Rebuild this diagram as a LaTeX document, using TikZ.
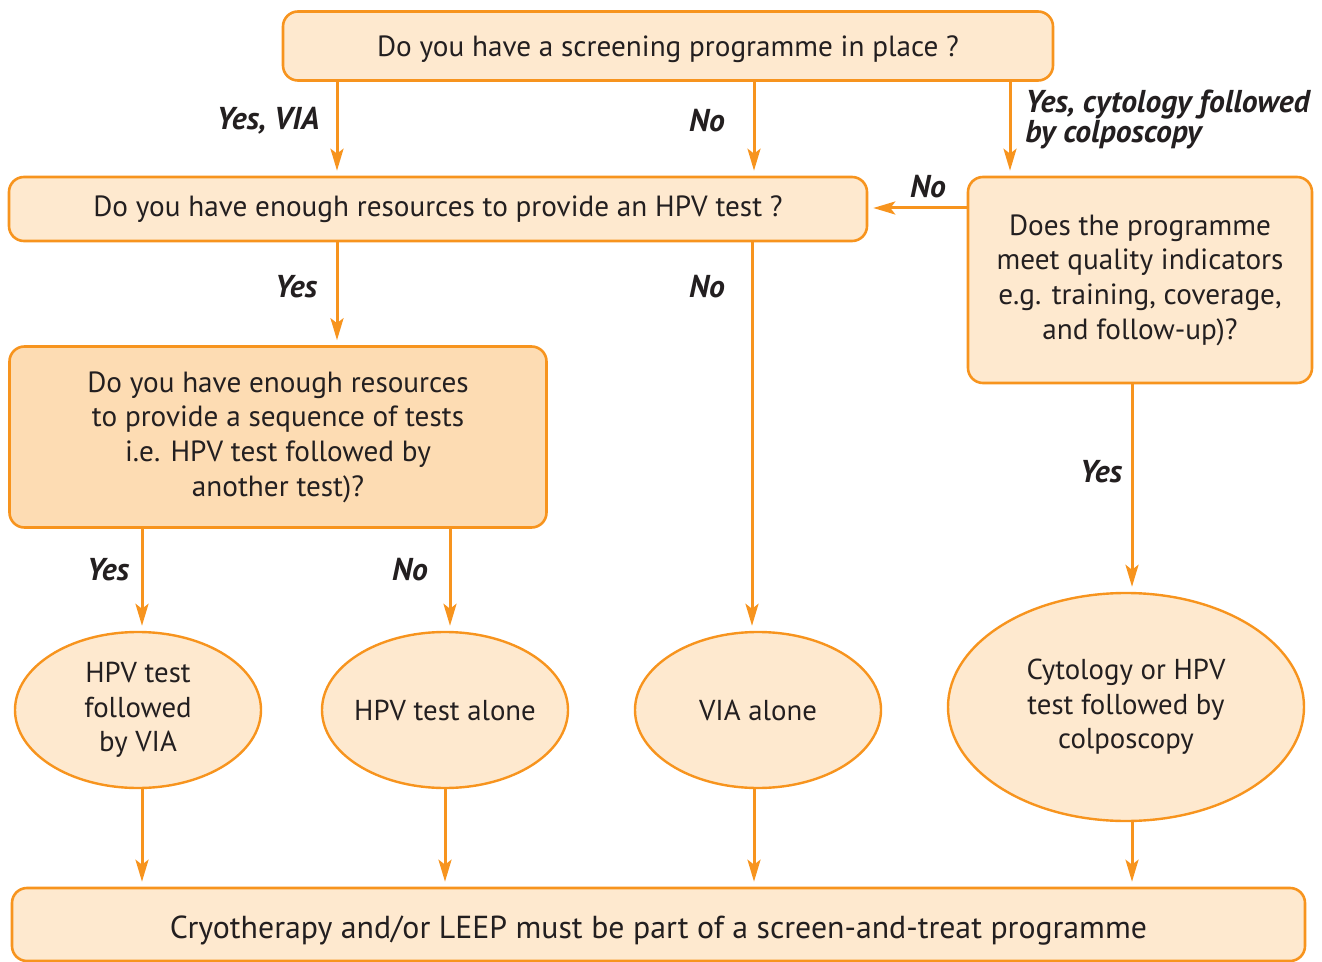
\documentclass[tikz,border=0pt]{standalone}
\usepackage{fontspec}
\setmainfont{PT Sans}
\usetikzlibrary{arrows.meta,shapes.geometric}
\definecolor{lineorange}{HTML}{F7941E}
\definecolor{boxfill}{HTML}{FEE9CF}
\definecolor{boxfilldark}{HTML}{FDDCB3}
\definecolor{textgrey}{HTML}{231F20}
\tikzset{
  question/.style={
    rectangle,
    rounded corners=7.5pt,
    draw=lineorange, line width=1.3pt,
    fill=boxfill,
    text=textgrey,
    font=\fontsize{14.6}{17.3}\selectfont,
    inner sep=2pt,
    align=center,
  },
  outcome/.style={
    ellipse,
    draw=lineorange, line width=1.2pt,
    fill=boxfill,
    text=textgrey,
    font=\fontsize{14.4}{17.3}\selectfont,
    inner xsep=-4pt, inner ysep=1pt,
    align=center,
    minimum width=123pt, minimum height=78pt,
  },
  answer/.style={
    text=textgrey,
    font=\fontsize{15.8}{15}\selectfont\bfseries\itshape,
    inner sep=0pt,
  },
  flow/.style={draw=lineorange, line width=1.5pt, ->, shorten >=2.5pt},
}

\begin{document}
\begin{tikzpicture}[x=0.5pt,y=-0.5pt,>={Stealth[length=11pt,width=6.5pt,inset=2.5pt]}]
  \useasboundingbox (0,0) rectangle (1322,962);

  % columns and rows of the connectors
  \coordinate (colA) at (142,0);
  \coordinate (colB) at (337,0);
  \coordinate (colC) at (450,0);
  \coordinate (colD) at (445,0);
  \coordinate (colE) at (754,0);
  \coordinate (colF) at (1010,0);
  \coordinate (colG) at (1132,0);
  \coordinate (rowNo) at (0,208);

  \node[question, minimum width=385pt, minimum height=34.5pt] (screening) at (668,46)
    {\raisebox{-1.5pt}[\height][\depth]{Do you have a screening programme in place ?}};
  \node[question, minimum width=429pt, minimum height=32pt] (hpv) at (438,209)
    {Do you have enough resources to provide an HPV test ?};
  \node[question, minimum width=172pt, minimum height=103pt] (quality) at (1140,280)
    {Does the programme\\meet quality indicators\\e.g. training, coverage,\\and follow-up)?};
  \node[question, fill=boxfilldark, minimum width=268.5pt, minimum height=90.5pt] (sequence) at (278,437)
    {Do you have enough resources\\to provide a sequence of tests\\i.e. HPV test followed by\\another test)?};

  \node[outcome] (hpvvia) at (138,710) {HPV test\\followed\\by VIA};
  \node[outcome] (hpvalone) at (445,710) {HPV test alone};
  \node[outcome] (via) at (758,710) {VIA alone};
  \node[outcome, minimum width=178pt, minimum height=114pt] (cytology) at (1126,707)
    {Cytology or HPV\\test followed by\\colposcopy};

  \node[question, font=\fontsize{15.9}{17.3}\selectfont, minimum width=646.5pt, minimum height=36.5pt] (treat) at (658.5,924.5)
    {\raisebox{-3pt}[\height][\depth]{Cryotherapy and/or LEEP must be part of a screen-and-treat programme}};

  % answers
  \node[answer, anchor=east] (lblvia) at (320,121) {Yes, VIA};
  \node[answer] (lblno1) at (707,121) {No};
  \node[answer, anchor=west, align=left] (lblcyto) at (1025,119) {Yes, cytology followed\\by colposcopy};
  \node[answer] (lblno2) at (928,187) {No};
  \node[answer] (lblyes1) at (296,287) {Yes};
  \node[answer] (lblno3) at (707,287) {No};
  \node[answer] (lblyes2) at (108,570) {Yes};
  \node[answer] (lblno4) at (410,570) {No};
  \node[answer] (lblyes3) at (1101,472) {Yes};

  \draw[flow] (screening.south -| colB) -- (hpv.north -| colB);
  \draw[flow] (screening.south -| colE) -- (hpv.north -| colE);
  \draw[flow] (screening.south -| colF) -- (quality.north -| colF);
  \draw[flow] (rowNo -| quality.west) -- (rowNo -| hpv.east);
  \draw[flow] (hpv.south -| colB) -- (sequence.north -| colB);
  \draw[flow] ([xshift=-1pt]hpv.south -| colE) -- ([xshift=-1pt]via.north -| colE);
  \draw[flow] (quality.south -| colG) -- (cytology.north -| colG);
  \draw[flow] (sequence.south -| colA) -- (hpvvia.north -| colA);
  \draw[flow] (sequence.south -| colC) -- (hpvalone.north -| colC);

  \draw[flow] (hpvvia.south -| colA) -- (treat.north -| colA);
  \draw[flow] (hpvalone.south -| colD) -- (treat.north -| colD);
  \draw[flow] (via.south -| colE) -- (treat.north -| colE);
  \draw[flow] (cytology.south -| colG) -- (treat.north -| colG);
\end{tikzpicture}
\end{document}
